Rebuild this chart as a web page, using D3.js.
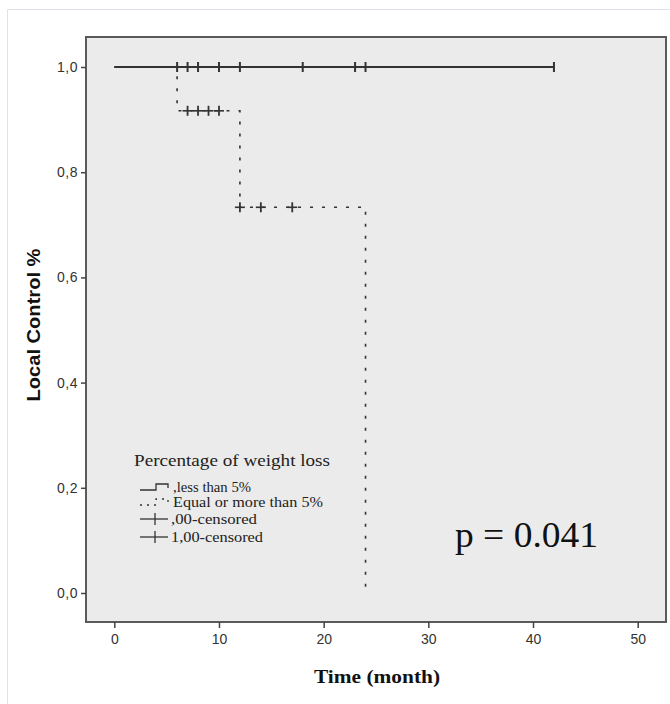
<!DOCTYPE html>
<html><head><meta charset="utf-8">
<script src="https://cdn.jsdelivr.net/npm/d3@7"></script>
<style>body{margin:0;background:#fff}svg{display:block}</style>
</head><body>
<svg id="c" width="670" height="704"></svg>
<script>
// ---- data ----
const xTicks = [0, 10, 20, 30, 40, 50];
const yTicks = [0, 0.2, 0.4, 0.6, 0.8, 1.0];
// group 1: less than 5% (no events)
const g1Steps = [[0, 1.0], [42, 1.0]];
const g1Censored = [6, 7, 8, 10, 12, 18, 23, 24, 42];
// group 2: equal or more than 5%
const g2Steps = [[0, 1.0], [6, 1.0], [6, 0.9167], [12, 0.9167], [12, 0.7333], [24, 0.7333], [24, 0.0]];
const g2Censored = [[7, 0.9167], [8, 0.9167], [9, 0.9167], [10, 0.9167], [12, 0.7333], [14, 0.7333], [17, 0.7333]];
const legendTitle = "Percentage of weight loss";
const legendItems = [",less than 5%", "Equal or more than 5%", ",00-censored", "1,00-censored"];
const pText = "p = 0.041";

const svg = d3.select("#c");
const L = 86, R = 666, T = 37, B = 622;
const x = d3.scaleLinear().domain([0, 50]).range([114.3, 637.7]);
const y = d3.scaleLinear().domain([0, 1]).range([593, 67]);
const sans = "Liberation Sans, Arial, sans-serif";
const serif = "Liberation Serif, Times New Roman, serif";

// outer light border
svg.append("path").attr("d", "M7.5,704 V9.5 H670").attr("fill", "none").attr("stroke", "#e2e2ea").attr("stroke-width", 1);

// plot background + frame
svg.append("rect").attr("x", L).attr("y", T).attr("width", R - L).attr("height", B - T)
  .attr("fill", "#ebebeb").attr("stroke", "#5a5a5a").attr("stroke-width", 2);

// axes
const yAxis = d3.axisLeft(y).tickValues(yTicks).tickSize(5).tickPadding(3)
  .tickFormat(d => d3.format(".1f")(d).replace(".", ","));
const gy = svg.append("g").attr("transform", `translate(${L},0)`).call(yAxis);
gy.select(".domain").remove();
gy.selectAll("line").attr("stroke", "#444").attr("stroke-width", 1.5);
gy.selectAll("text").attr("font-family", sans).attr("font-size", 14).attr("letter-spacing", 0.5).attr("fill", "#333");

const xAxis = d3.axisBottom(x).tickValues(xTicks).tickSize(6).tickPadding(6);
const gx = svg.append("g").attr("transform", `translate(0,${B})`).call(xAxis);
gx.select(".domain").remove();
gx.selectAll("line").attr("stroke", "#444").attr("stroke-width", 1.5);
gx.selectAll("text").attr("font-family", sans).attr("font-size", 14).attr("fill", "#333");

// axis titles
svg.append("text").attr("transform", "translate(40,325) rotate(-90)").attr("text-anchor", "middle")
  .attr("font-family", sans).attr("font-weight", "bold").attr("font-size", 18)
  .attr("textLength", 153).attr("lengthAdjust", "spacingAndGlyphs")
  .attr("fill", "#111").text("Local Control %");
svg.append("text").attr("x", 377).attr("y", 683).attr("text-anchor", "middle")
  .attr("font-family", serif).attr("font-weight", "bold").attr("font-size", 18)
  .attr("textLength", 126).attr("lengthAdjust", "spacingAndGlyphs")
  .attr("fill", "#111").text("Time (month)");

const line = d3.line().x(d => x(d[0])).y(d => y(d[1]));

// group 2 dashed line (underneath)
svg.append("path").attr("d", line(g2Steps)).attr("fill", "none").attr("stroke", "#333").attr("stroke-width", 1.6)
  .attr("stroke-dasharray", "3,9");
const c2 = svg.selectAll(".c2").data(g2Censored).enter().append("g");
c2.append("line").attr("x1", d => x(d[0])).attr("x2", d => x(d[0])).attr("y1", d => y(d[1]) - 5).attr("y2", d => y(d[1]) + 5)
  .attr("stroke", "#333").attr("stroke-width", 1.8);
c2.append("line").attr("x1", d => x(d[0]) - 5).attr("x2", d => x(d[0]) + 5).attr("y1", d => y(d[1])).attr("y2", d => y(d[1]))
  .attr("stroke", "#333").attr("stroke-width", 1.6);

// group 1 solid line (on top, covers the shared segment)
svg.append("path").attr("d", line(g1Steps)).attr("fill", "none").attr("stroke", "#333").attr("stroke-width", 2);
svg.selectAll(".c1").data(g1Censored).enter().append("line")
  .attr("x1", d => x(d)).attr("x2", d => x(d)).attr("y1", y(1) - 5).attr("y2", y(1) + 5)
  .attr("stroke", "#333").attr("stroke-width", 2);

// legend
svg.append("text").attr("x", 134).attr("y", 466).attr("font-family", serif).attr("font-size", 16)
  .attr("textLength", 196).attr("lengthAdjust", "spacingAndGlyphs").attr("fill", "#222").text(legendTitle);
const ly = [487, 502, 519, 537];
const lw = [78, 150, 86, 92];
legendItems.forEach((t, i) => {
  svg.append("text").attr("x", i < 2 ? 173 : 171).attr("y", ly[i] + 4.5).attr("font-family", serif).attr("font-size", 14)
    .attr("textLength", lw[i]).attr("lengthAdjust", "spacingAndGlyphs")
    .attr("fill", "#222").text(t);
});
// symbol 1: step shape
svg.append("path").attr("d", `M140,${ly[0] + 3} H156 V${ly[0] - 3} H168 V${ly[0] + 1}`).attr("fill", "none").attr("stroke", "#333").attr("stroke-width", 1.3);
// symbol 2: dotted step shape
svg.append("path").attr("d", `M140,${ly[1] + 3} H156 V${ly[1] - 3} H168 V${ly[1] + 2}`).attr("fill", "none").attr("stroke", "#333").attr("stroke-width", 1.3).attr("stroke-dasharray", "2,5");
// symbols 3,4: censor lines
[2, 3].forEach(i => {
  svg.append("line").attr("x1", 140).attr("x2", 168).attr("y1", ly[i]).attr("y2", ly[i]).attr("stroke", "#333").attr("stroke-width", 1.3);
  svg.append("line").attr("x1", 155).attr("x2", 155).attr("y1", ly[i] - 6).attr("y2", ly[i] + 6).attr("stroke", "#333").attr("stroke-width", 1.3);
});

// p value
svg.append("text").attr("x", 455).attr("y", 547).attr("font-family", serif).attr("font-size", 36)
  .attr("textLength", 143).attr("lengthAdjust", "spacingAndGlyphs").attr("fill", "#111").text(pText);
</script>
</body></html>
